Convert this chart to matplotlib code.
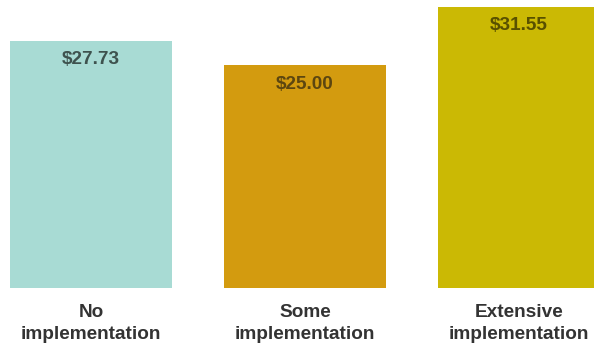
import matplotlib.pyplot as plt
import numpy as np

plt.rcParams["font.family"] = ["Liberation Sans", "DejaVu Sans"]

categories = ["No\nimplementation", "Some\nimplementation", "Extensive\nimplementation"]
values = [27.73, 25.00, 31.55]
colors = ["#a8dbd4", "#d39b0f", "#cbb904"]
label_colors = ["#3e524e", "#5c4610", "#585000"]

fig = plt.figure(figsize=(5.94, 3.43), dpi=100)
ax = fig.add_axes([0, 55 / 343, 1, 288 / 343])

x = np.arange(len(values))
bars = ax.bar(x, values, width=162 / 214, color=colors)

for xi, v, c in zip(x, values, label_colors):
    ax.annotate(f"${v:.2f}", (xi, v), xytext=(0, -13.5), textcoords="offset points",
                ha="center", va="center", fontsize=13.7, fontweight="bold", color=c)

ax.set_xlim(-91 / 214, -91 / 214 + 594 / 214)
ax.set_ylim(0, 288 * 31.55 / 281)
ax.set_xticks(x)
ax.set_xticklabels(categories, fontsize=13.7, fontweight="bold", color="#333333",
                   linespacing=1.35)
ax.tick_params(axis="x", length=0, pad=11.5)
ax.set_yticks([])
for s in ax.spines.values():
    s.set_visible(False)

fig.savefig("out.png", dpi=100)
